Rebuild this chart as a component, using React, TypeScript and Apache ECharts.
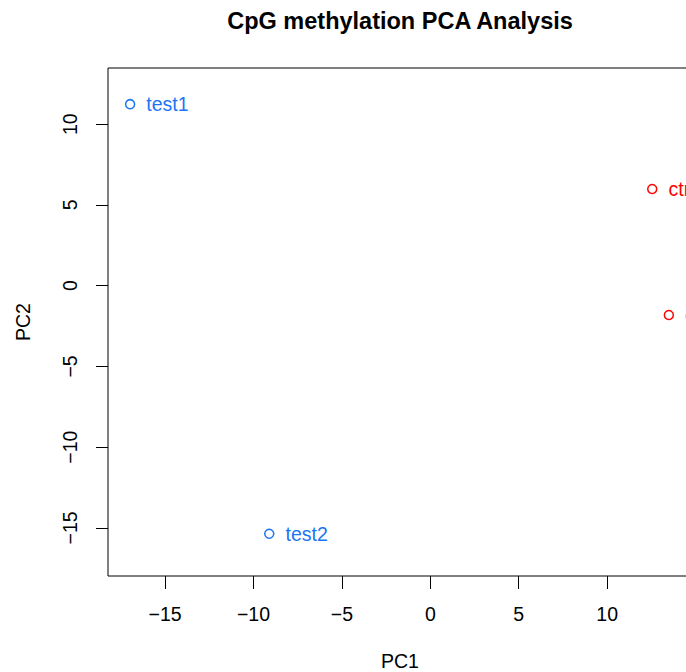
import React, { useEffect, useRef } from "react";
import * as echarts from "echarts";

const sampleNames = ["test1", "test2", "ctrl1", "ctrl2"];
const sampleGroups = ["test", "test", "ctrl", "ctrl"];
const pc1Values = [-16.98, -9.11, 12.55, 13.49];
const pc2Values = [11.24, -15.36, 5.99, -1.82];
const xTicks = [-15, -10, -5, 0, 5, 10];
const yTicks = [-15, -10, -5, 0, 5, 10];
const groupColors: Record<string, string> = { test: "#1C75F2", ctrl: "#FF0000" };

const FONT = "'Liberation Sans', Arial, Helvetica, sans-serif";
const fmt = (v: number) => String(v).replace("-", "\u2212");

export default function App() {
  const ref = useRef<HTMLDivElement>(null);
  useEffect(() => {
    if (!ref.current) return;
    const chart = echarts.init(ref.current, null, { renderer: "svg" });
    const groups = ["test", "ctrl"];
    const series = groups.map((g) => ({
      type: "scatter",
      name: g,
      symbol: "circle",
      symbolSize: 9,
      itemStyle: {
        color: "transparent",
        borderColor: groupColors[g],
        borderWidth: 1.5,
        opacity: 1,
      },
      label: {
        show: true,
        position: "right",
        distance: 11,
        formatter: (p: any) => p.data[2],
        color: groupColors[g],
        fontFamily: FONT,
        fontSize: 19.5,
      },
      data: sampleNames
        .map((n, i) => [pc1Values[i], pc2Values[i], n, sampleGroups[i]])
        .filter((d) => d[3] === g),
    }));
    chart.setOption({
      animation: false,
      backgroundColor: "#fff",
      graphic: [
        {
          type: "text",
          x: 400,
          y: 21,
          style: {
            text: "CpG methylation PCA Analysis",
            fontFamily: FONT,
            fontWeight: "bold",
            fontSize: 23.5,
            fill: "#000",
            textAlign: "center",
            textVerticalAlign: "middle",
          },
        },
      ],
      grid: {
        left: 108,
        top: 68,
        width: 584,
        height: 508,
        containLabel: false,
        outerBoundsMode: "none",
        show: true,
        borderColor: "#000",
        borderWidth: 1,
        backgroundColor: "transparent",
      },
      xAxis: {
        type: "value",
        min: -18.23,
        max: 14.8,
        name: "PC1",
        nameLocation: "middle",
        nameGap: 75,
        nameTextStyle: { fontFamily: FONT, fontSize: 19.5, color: "#000" },
        splitLine: { show: false },
        axisLine: { show: false, onZero: false },
        axisTick: {
          show: true,
          length: 13,
          customValues: xTicks,
          lineStyle: { color: "#000", width: 1 },
        },
        axisLabel: {
          customValues: xTicks,
          formatter: fmt,
          margin: 28,
          fontFamily: FONT,
          fontSize: 19.5,
          color: "#000",
        },
      },
      yAxis: {
        type: "value",
        min: -17.98,
        max: 13.48,
        name: "PC2",
        nameLocation: "middle",
        nameRotate: 90,
        nameGap: 75,
        nameTextStyle: { fontFamily: FONT, fontSize: 19.5, color: "#000" },
        splitLine: { show: false },
        axisLine: { show: false, onZero: false },
        axisTick: {
          show: true,
          length: 12,
          customValues: yTicks,
          lineStyle: { color: "#000", width: 1 },
        },
        axisLabel: {
          customValues: yTicks,
          formatter: fmt,
          rotate: 90,
          margin: 28,
          fontFamily: FONT,
          fontSize: 19.5,
          color: "#000",
        },
      },
      series,
    });
    return () => chart.dispose();
  }, []);
  return (
    <div
      style={{
        position: "absolute",
        left: 0,
        top: 0,
        width: 686,
        height: 672,
        overflow: "hidden",
        background: "#fff",
      }}
    >
      <div ref={ref} style={{ width: 700, height: 672 }} />
    </div>
  );
}
